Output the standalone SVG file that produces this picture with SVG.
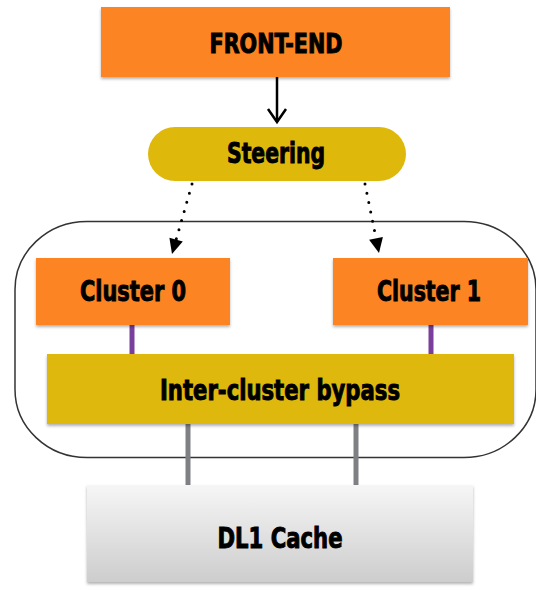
<svg xmlns="http://www.w3.org/2000/svg" width="536" height="591" viewBox="0 0 536 591">
  <defs>
    <filter id="sh" x="-10%" y="-10%" width="120%" height="130%">
      <feDropShadow dx="0" dy="2" stdDeviation="1.5" flood-color="#000" flood-opacity="0.3"/>
    </filter>
    <linearGradient id="cache" x1="0" y1="0" x2="0" y2="1">
      <stop offset="0" stop-color="#f6f6f6"/>
      <stop offset="1" stop-color="#cdcdcd"/>
    </linearGradient>
  </defs>
  <style>
    .lbl { font-family: "DejaVu Sans Condensed", "DejaVu Sans", sans-serif; font-stretch: condensed; font-weight: bold; fill: #000; stroke: #000; stroke-width: 0.9; text-anchor: middle; }
    .orange { fill: #fd8424; }
    .yellow { fill: #dfb80c; }
    .dot { fill: none; stroke: #000; stroke-width: 3; stroke-linecap: round; stroke-dasharray: 0 9.5; }
    .head { fill: #000; }
    .purple { stroke: #7a3f9d; stroke-width: 5; }
    .gray { stroke: #7e8083; stroke-width: 5; }
  </style>

  <g id="container">
    <rect x="15" y="221.5" width="521" height="236" rx="72" ry="68" fill="none" stroke="#333" stroke-width="1.5"/>
  </g>

  <g id="connectors">
    <line x1="277" y1="77" x2="277" y2="122" stroke="#000" stroke-width="2.5"/>
    <polyline points="268,109 277,122 286,109" fill="none" stroke="#000" stroke-width="2.5" stroke-linejoin="miter"/>
    <line class="dot" x1="192" y1="184" x2="176" y2="240"/>
    <polygon class="head" points="172,254 182.8,241.5 169.4,237.7"/>
    <line class="dot" x1="365" y1="184" x2="376" y2="238"/>
    <polygon class="head" points="379,253 382.9,236.9 369.1,239.7"/>
    <line class="purple" x1="132" y1="325" x2="132" y2="355"/>
    <line class="purple" x1="431" y1="325" x2="431" y2="355"/>
    <line class="gray" x1="188" y1="423" x2="188" y2="485"/>
    <line class="gray" x1="356" y1="423" x2="356" y2="485"/>
  </g>

  <g id="frontend">
    <rect class="orange" x="101" y="7" width="349" height="70" filter="url(#sh)"/>
    <text class="lbl" x="276" y="53" font-size="26" textLength="133" lengthAdjust="spacingAndGlyphs">FRONT-END</text>
  </g>

  <g id="steering">
    <rect class="yellow" x="148" y="127" width="258" height="54" rx="27" ry="27"/>
    <text class="lbl" x="276" y="163" font-size="28" textLength="98" lengthAdjust="spacingAndGlyphs">Steering</text>
  </g>

  <g id="cluster0">
    <rect class="orange" x="36" y="258" width="194" height="67" filter="url(#sh)"/>
    <text class="lbl" x="133" y="301" font-size="28" textLength="106" lengthAdjust="spacingAndGlyphs">Cluster 0</text>
  </g>

  <g id="cluster1">
    <rect class="orange" x="333" y="258" width="195" height="67" filter="url(#sh)"/>
    <text class="lbl" x="429" y="301" font-size="28" textLength="104" lengthAdjust="spacingAndGlyphs">Cluster 1</text>
  </g>

  <g id="bypass">
    <rect class="yellow" x="47" y="354" width="467" height="70" filter="url(#sh)"/>
    <text class="lbl" x="280" y="400" font-size="28" textLength="240" lengthAdjust="spacingAndGlyphs">Inter-cluster bypass</text>
  </g>

  <g id="dl1cache">
    <rect x="87" y="485" width="386" height="97" fill="url(#cache)" filter="url(#sh)"/>
    <text class="lbl" x="280" y="548" font-size="28" textLength="125" lengthAdjust="spacingAndGlyphs">DL1 Cache</text>
  </g>
</svg>
